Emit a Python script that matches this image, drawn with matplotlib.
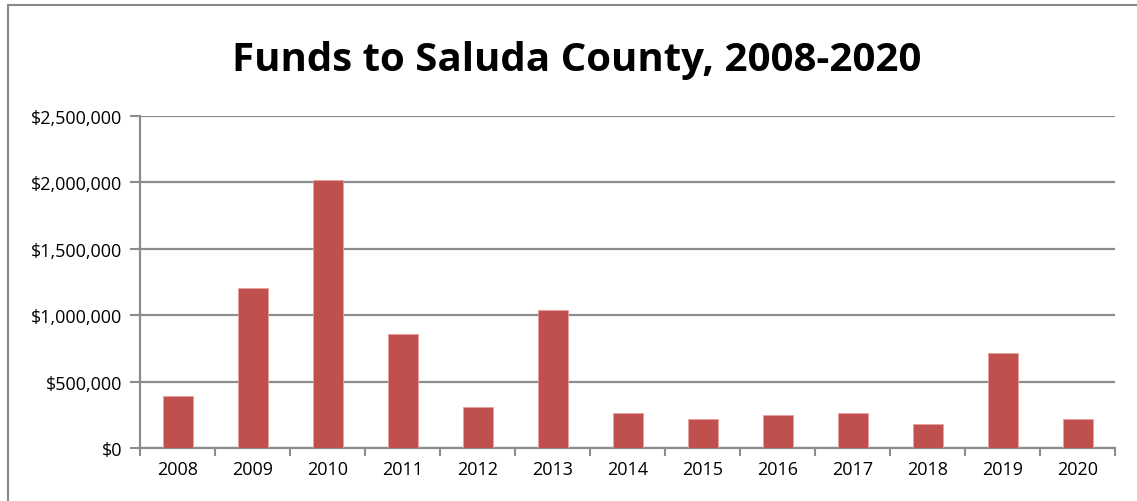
import numpy as np
import matplotlib.pyplot as plt
from matplotlib.patches import Rectangle
from matplotlib.ticker import FuncFormatter, FixedLocator

years = ["2008", "2009", "2010", "2011", "2012", "2013", "2014",
         "2015", "2016", "2017", "2018", "2019", "2020"]
funds = [392000, 1205000, 2015000, 860000, 306000, 1036000, 261000,
         216000, 246000, 261000, 183000, 712000, 215000]
y_ticks = [0, 500000, 1000000, 1500000, 2000000, 2500000]

BAR = "#C0504D"
GRID = "#8C8C8C"
FONT = "Open Sans"

fig = plt.figure(figsize=(11.37, 5.02), dpi=100)
# outer chart frame (cropped on right and bottom)
fig.patches.append(Rectangle((8 / 1137, -0.1), 1.2, 1 - 6 / 502 + 0.1,
                             transform=fig.transFigure, fill=False,
                             edgecolor="#888888", linewidth=1.5))

ax = fig.add_axes([140 / 1137, 1 - 449 / 502, 975 / 1137, 332 / 502])
x = np.arange(len(years))
ax.bar(x, funds, width=0.4, color=BAR, edgecolor="#E8A09E", linewidth=0.6, zorder=3)

ax.set_xlim(-0.5, len(years) - 0.5)
ax.set_ylim(0, 2500000)
ax.set_yticks(y_ticks)
ax.yaxis.set_major_formatter(FuncFormatter(lambda v, p: f"${v:,.0f}"))
ax.set_xticks(x)
ax.set_xticklabels(years)
ax.xaxis.set_minor_locator(FixedLocator(np.arange(-0.5, len(years), 1.0)))

ax.grid(axis="y", color=GRID, linewidth=1.6, zorder=0)
for s in ["top", "right"]:
    ax.spines[s].set_visible(False)
for s in ["left", "bottom"]:
    ax.spines[s].set_color(GRID)
    ax.spines[s].set_linewidth(1.6)

ax.tick_params(axis="y", length=7, width=1.5, color=GRID, pad=6)
ax.tick_params(axis="x", which="major", length=0, pad=9)
ax.tick_params(axis="x", which="minor", length=6, width=1.5, color=GRID)
for lbl in ax.get_xticklabels() + ax.get_yticklabels():
    lbl.set_fontfamily(FONT)
    lbl.set_fontsize(13)
    lbl.set_color("black")

fig.text(577 / 1137, 1 - 61 / 502, "Funds to Saluda County, 2008-2020",
         ha="center", va="center", fontsize=29, fontweight="bold",
         family=FONT, color="black")

fig.savefig("out.png", dpi=100)
